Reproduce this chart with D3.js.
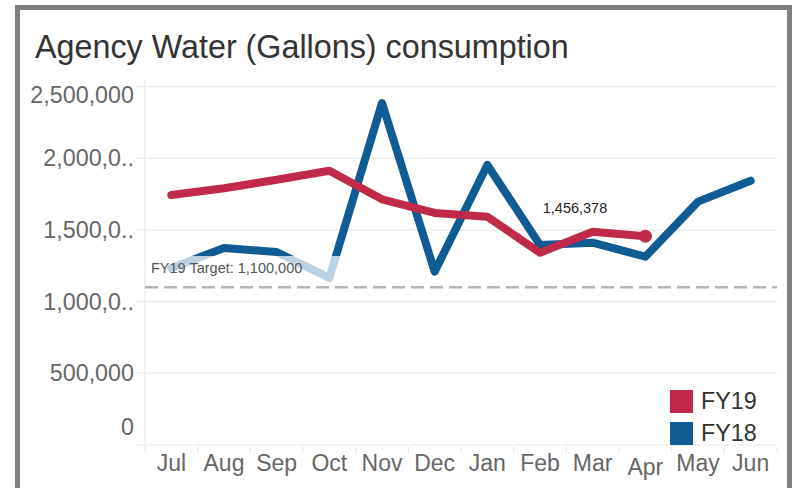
<!DOCTYPE html>
<html><head><meta charset="utf-8">
<script src="https://cdn.jsdelivr.net/npm/d3@7"></script>
<style>body{margin:0;background:#fff;} text{font-family:"Liberation Sans",Arial,sans-serif;}</style>
</head><body>
<svg id="c" width="792" height="488"></svg>
<script>
const months = ["Jul","Aug","Sep","Oct","Nov","Dec","Jan","Feb","Mar","Apr","May","Jun"];
const fy18 = [1234000,1374000,1346000,1165000,2385000,1209000,1953000,1395000,1411000,1313000,1697000,1843000];
const fy19 = [1743000,1790000,1850000,1912000,1713000,1618000,1592000,1341000,1487000,1456378];
const yTicks = [0,500000,1000000,1500000,2000000,2500000];
const yTickLabels = ["0","500,000","1,000,0..","1,500,0..","2,000,0..","2,500,000"];
const target = 1100000;
const targetLabel = "FY19 Target: 1,100,000";
const seriesNames = ["FY19","FY18"];
const colors = {FY19:"#c0294a", FY18:"#0f5b94"};

const svg = d3.select("#c");
const x = d3.scaleBand().domain(months).range([145,777]);
const y = d3.scaleLinear().domain([0,2500000]).range([445,86.5]);

// frame
svg.append("rect").attr("x",17.5).attr("y",7.5).attr("width",772).attr("height",520)
  .attr("fill","none").attr("stroke","#7f7f7f").attr("stroke-width",5);

// title
svg.append("text").attr("x",35).attr("y",58).attr("font-size",32.3).attr("fill","#333")
  .text("Agency Water (Gallons) consumption");

// gridlines
svg.append("g").selectAll("line").data(yTicks.filter(d=>d>0)).join("line")
  .attr("x1",137).attr("x2",777).attr("y1",d=>y(d)).attr("y2",d=>y(d))
  .attr("stroke","#ececec").attr("stroke-width",1.5);
// zero line
svg.append("line").attr("x1",137).attr("x2",777).attr("y1",y(0)).attr("y2",y(0))
  .attr("stroke","#d4d4d4").attr("stroke-dasharray","1,1").attr("stroke-width",1);
// y axis line
svg.append("line").attr("x1",145).attr("x2",145).attr("y1",80).attr("y2",453)
  .attr("stroke","#ececec").attr("stroke-width",1.5);
// x tick marks at band boundaries
svg.append("g").selectAll("line").data(months.slice(1)).join("line")
  .attr("x1",d=>x(d)).attr("x2",d=>x(d)).attr("y1",447).attr("y2",453)
  .attr("stroke","#e6e6e6").attr("stroke-width",1);
svg.append("line").attr("x1",777).attr("x2",777).attr("y1",447).attr("y2",453)
  .attr("stroke","#e6e6e6").attr("stroke-width",1);

// y labels
svg.append("g").selectAll("text").data(yTicks).join("text")
  .attr("x",134).attr("y",(d,i)=>{
     let yy = y(d)+8;
     if(d===2500000) yy += 8.5;
     if(d===0) yy -= 18.5;
     return yy;})
  .attr("text-anchor","end").attr("font-size",23.3).attr("fill","#666")
  .text((d,i)=>yTickLabels[i]);

// x labels
svg.append("g").selectAll("text").data(months).join("text")
  .attr("x",d=>x(d)+x.bandwidth()/2).attr("y",d=>d==="Apr"?475:471)
  .attr("text-anchor","middle").attr("font-size",23).attr("fill","#666").text(d=>d);

// target line
svg.append("line").attr("x1",145).attr("x2",777).attr("y1",y(target)).attr("y2",y(target))
  .attr("stroke","#b5b5b5").attr("stroke-width",2.5).attr("stroke-dasharray","13,6");

const line = d3.line().x((d,i)=>x(months[i])+x.bandwidth()/2).y(d=>y(d));
svg.append("path").datum(fy18).attr("d",line).attr("fill","none")
  .attr("stroke",colors.FY18).attr("stroke-width",8).attr("stroke-linejoin","round").attr("stroke-linecap","round");
svg.append("path").datum(fy19).attr("d",line).attr("fill","none")
  .attr("stroke",colors.FY19).attr("stroke-width",8).attr("stroke-linejoin","round").attr("stroke-linecap","round");
const lastI = fy19.length-1;
svg.append("circle").attr("cx",x(months[lastI])+x.bandwidth()/2).attr("cy",y(fy19[lastI])).attr("r",6.5)
  .attr("fill",colors.FY19);

// target label area overlay
svg.append("rect").attr("x",146).attr("y",256).attr("width",194).attr("height",28)
  .attr("fill","#fff").attr("opacity",0.72);
svg.append("text").attr("x",151).attr("y",272.5).attr("font-size",14.5).attr("fill","#555").text(targetLabel);

// value label
svg.append("text").attr("x",575).attr("y",212.5).attr("text-anchor","middle").attr("font-size",14.5)
  .attr("fill","#222").text(d3.format(",")(fy19[lastI]));

// legend
const lg = svg.append("g").selectAll("g").data(seriesNames).join("g")
  .attr("transform",(d,i)=>`translate(670,${390+i*32})`);
lg.append("rect").attr("width",23).attr("height",23).attr("fill",d=>colors[d]);
lg.append("text").attr("x",31).attr("y",19).attr("font-size",23.3).attr("fill","#333").text(d=>d);
</script>
</body></html>
